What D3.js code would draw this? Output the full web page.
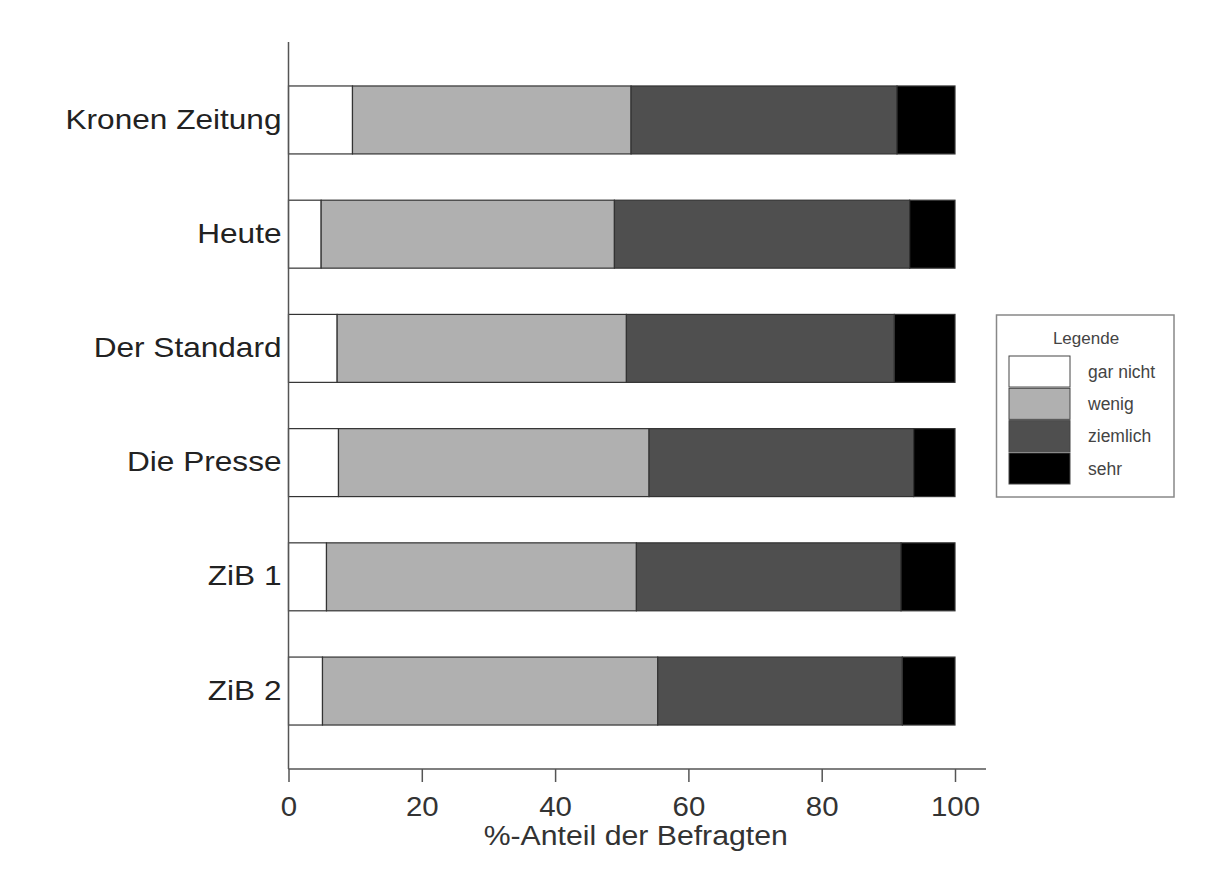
<!DOCTYPE html>
<html>
<head>
<meta charset="utf-8">
<script src="https://cdn.jsdelivr.net/npm/d3@7"></script>
<style>
  body { margin: 0; background: #fff; }
  text { font-family: "Liberation Sans", Arial, sans-serif; }
</style>
</head>
<body>
<div id="chart"></div>
<script>
// data
var medien = ["Kronen Zeitung", "Heute", "Der Standard", "Die Presse", "ZiB 1", "ZiB 2"];
var stufen = ["gar nicht", "wenig", "ziemlich", "sehr"];
var garNicht = [9.6, 4.9, 7.3, 7.5, 5.7, 5.1];
var wenig    = [41.8, 44.0, 43.4, 46.6, 46.5, 50.3];
var ziemlich = [39.9, 44.3, 40.2, 39.7, 39.7, 36.7];
var sehr     = [8.7, 6.8, 9.1, 6.2, 8.1, 7.9];
var xTicks = [0, 20, 40, 60, 80, 100];
var farben = ["#ffffff", "#b0b0b0", "#4f4f4f", "#000000"];

var svgWidth = 1217, svgHeight = 879;

var svg = d3.select("#chart").append("svg")
  .attr("width", svgWidth)
  .attr("height", svgHeight);

var rows = medien.map(function(m, i) {
  return { medium: m, "gar nicht": garNicht[i], "wenig": wenig[i], "ziemlich": ziemlich[i], "sehr": sehr[i] };
});

var stack = d3.stack().keys(stufen)(rows);

var xScale = d3.scaleLinear().domain([0, 100]).range([288.5, 955]);
var yScale = d3.scaleBand().domain(medien).range([42, 769])
  .paddingInner(0.405).paddingOuter(0.385);
var color = d3.scaleOrdinal().domain(stufen).range(farben);

// bars
svg.append("g").selectAll("g")
  .data(stack)
  .enter().append("g")
  .attr("fill", d => color(d.key))
  .selectAll("rect")
  .data(d => d)
  .enter().append("rect")
  .attr("x", d => xScale(d[0]))
  .attr("y", d => yScale(d.data.medium))
  .attr("width", d => xScale(d[1]) - xScale(d[0]))
  .attr("height", yScale.bandwidth())
  .attr("stroke", "#333")
  .attr("stroke-width", 1.2);

// axes
var bottomAxis = d3.axisBottom(xScale).tickValues(xTicks).tickSize(13).tickPadding(15);
var xAxis = svg.append("g")
  .attr("transform", "translate(0, 769)")
  .call(bottomAxis);
xAxis.select(".domain").remove();
xAxis.append("line")
  .attr("x1", 288.5).attr("x2", 986).attr("y1", 0).attr("y2", 0)
  .attr("stroke", "#555").attr("stroke-width", 1.5);
xAxis.selectAll(".tick line").attr("stroke", "#555").attr("stroke-width", 1.5);
xAxis.selectAll(".tick text")
  .attr("font-size", "27px")
  .attr("fill", "#333")
  .attr("transform", "scale(1.09,1)")
  .style("font-family", "'Liberation Sans', Arial, sans-serif");

var leftAxis = d3.axisLeft(yScale).tickSize(0).tickPadding(6);
var yAxis = svg.append("g")
  .attr("transform", "translate(288.5, 0)")
  .call(leftAxis);
yAxis.select(".domain").remove();
yAxis.append("line")
  .attr("x1", 0).attr("x2", 0).attr("y1", 42).attr("y2", 769)
  .attr("stroke", "#555").attr("stroke-width", 1.5);
yAxis.selectAll(".tick text")
  .attr("font-size", "27px")
  .attr("fill", "#222")
  .attr("transform", "scale(1.17,1)")
  .style("font-family", "'Liberation Sans', Arial, sans-serif");

var titleX = (xScale(0) + xScale(100)) / 2 + 14;
svg.append("text")
  .attr("transform", "translate(" + titleX + ",845) scale(1.12,1)")
  .attr("text-anchor", "middle")
  .attr("font-size", "27px")
  .attr("fill", "#333")
  .text("%-Anteil der Befragten");

// legend
var legend = svg.append("g");
legend.append("rect")
  .attr("x", 996.5).attr("y", 315)
  .attr("width", 177.5).attr("height", 182)
  .attr("fill", "#fff").attr("stroke", "#888").attr("stroke-width", 1.5);
legend.append("text")
  .attr("x", 1086).attr("y", 344)
  .attr("text-anchor", "middle")
  .attr("font-size", "17px")
  .attr("fill", "#444")
  .text("Legende");

var legY = d3.scaleBand().domain(stufen).range([356, 484]).paddingInner(0.04);
var item = legend.selectAll(".item")
  .data(stufen)
  .enter().append("g")
  .attr("class", "item");
item.append("rect")
  .attr("x", 1009).attr("y", d => legY(d))
  .attr("width", 61).attr("height", legY.bandwidth())
  .attr("fill", d => color(d))
  .attr("stroke", "#444").attr("stroke-width", 1);
item.append("text")
  .attr("x", 1088)
  .attr("y", d => legY(d) + legY.bandwidth() / 2)
  .attr("dy", "0.35em")
  .attr("font-size", "17.5px")
  .attr("fill", "#444")
  .text(d => d);
</script>
</body>
</html>
